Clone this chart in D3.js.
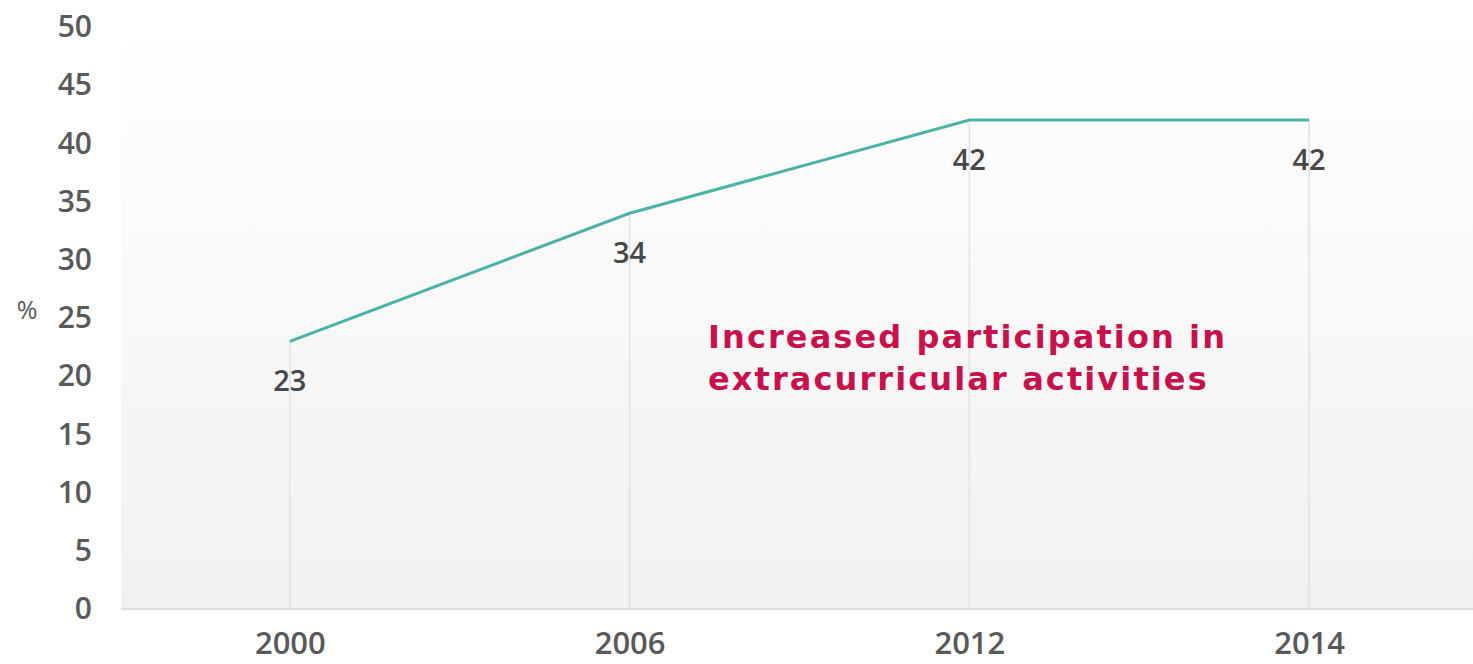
<!DOCTYPE html>
<html>
<head>
<meta charset="utf-8">
<script src="https://cdn.jsdelivr.net/npm/d3@7/dist/d3.min.js"></script>
<style>
  html, body { margin: 0; padding: 0; background: #ffffff; }
  svg { display: block; }
</style>
</head>
<body>
<svg id="chart" width="1473" height="664"></svg>
<script>
// Share of students taking part in extracurricular activities (%)
const years = ["2000", "2006", "2012", "2014"];
const values = [23, 34, 42, 42];
const yTicks = [0, 5, 10, 15, 20, 25, 30, 35, 40, 45, 50];
const noteLines = ["Increased participation in", "extracurricular activities"];

const W = 1473, H = 664;
const plot = { left: 121, right: 1473, top: 20, bottom: 609 };

const svg = d3.select("#chart");

const x = d3.scalePoint().domain(years).range([120, 1479]).padding(0.5);
const y = d3.scaleLinear().domain([0, 50]).range([609, 27]);

// soft vertical gradient behind the plot
const defs = svg.append("defs");
const grad = defs.append("linearGradient").attr("id", "bg")
  .attr("x1", 0).attr("y1", 0).attr("x2", 0).attr("y2", 1);
grad.append("stop").attr("offset", "0%").attr("stop-color", "#ffffff");
grad.append("stop").attr("offset", "100%").attr("stop-color", "#f1f1f1");

svg.append("rect")
  .attr("x", plot.left).attr("y", plot.top)
  .attr("width", plot.right - plot.left).attr("height", plot.bottom - plot.top)
  .attr("fill", "url(#bg)");

// drop lines from each point to the baseline
svg.append("g").selectAll("line").data(years).join("line")
  .attr("x1", d => x(d)).attr("x2", d => x(d))
  .attr("y1", (d, i) => y(values[i])).attr("y2", y(0))
  .attr("stroke", "#e2e2e2").attr("stroke-width", 1.5);

// baseline
svg.append("line")
  .attr("x1", plot.left).attr("x2", plot.right)
  .attr("y1", y(0)).attr("y2", y(0))
  .attr("stroke", "#e0e0e0").attr("stroke-width", 2);

// y axis labels
const yAxis = d3.axisLeft(y).tickValues(yTicks).tickSize(0).tickPadding(0);
const gy = svg.append("g").attr("transform", "translate(92,0)").call(yAxis);
gy.select(".domain").remove();
gy.selectAll("text")
  .attr("font-family", "'Open Sans', sans-serif")
  .attr("font-weight", 600)
  .attr("font-size", 30).attr("fill", "#595959");

// x axis labels
const xAxis = d3.axisBottom(x).tickSize(0).tickPadding(0);
const gx = svg.append("g").attr("transform", "translate(0,632)").call(xAxis);
gx.select(".domain").remove();
gx.selectAll("text")
  .attr("font-family", "'Open Sans', sans-serif")
  .attr("font-weight", 600)
  .attr("font-size", 31).attr("fill", "#595959");

// unit label
svg.append("text")
  .attr("x", 27).attr("y", 319)
  .attr("text-anchor", "middle")
  .attr("font-family", "'Open Sans', sans-serif")
  .attr("font-size", 25).attr("fill", "#595959")
  .text("%");

// series line
const line = d3.line().x((d, i) => x(years[i])).y(d => y(d));
svg.append("path").datum(values)
  .attr("d", line)
  .attr("fill", "none")
  .attr("stroke", "#4bb3a6")
  .attr("stroke-width", 3);

// value labels under the points
svg.append("g").selectAll("text").data(values).join("text")
  .attr("x", (d, i) => x(years[i]))
  .attr("y", d => y(d) + 50)
  .attr("text-anchor", "middle")
  .attr("font-family", "'Open Sans', sans-serif")
  .attr("font-weight", 600)
  .attr("font-size", 29).attr("fill", "#474747")
  .text(d => d);

// annotation
svg.append("text")
  .attr("x", 708).attr("y", 348)
  .attr("font-family", "'DejaVu Sans', Verdana, sans-serif")
  .attr("font-weight", "bold")
  .attr("font-size", 32)
  .attr("letter-spacing", 2.1)
  .attr("fill", "#c8104c")
  .selectAll("tspan").data(noteLines).join("tspan")
  .attr("x", 708).attr("dy", (d, i) => i === 0 ? 0 : 42)
  .text(d => d);
</script>
</body>
</html>
